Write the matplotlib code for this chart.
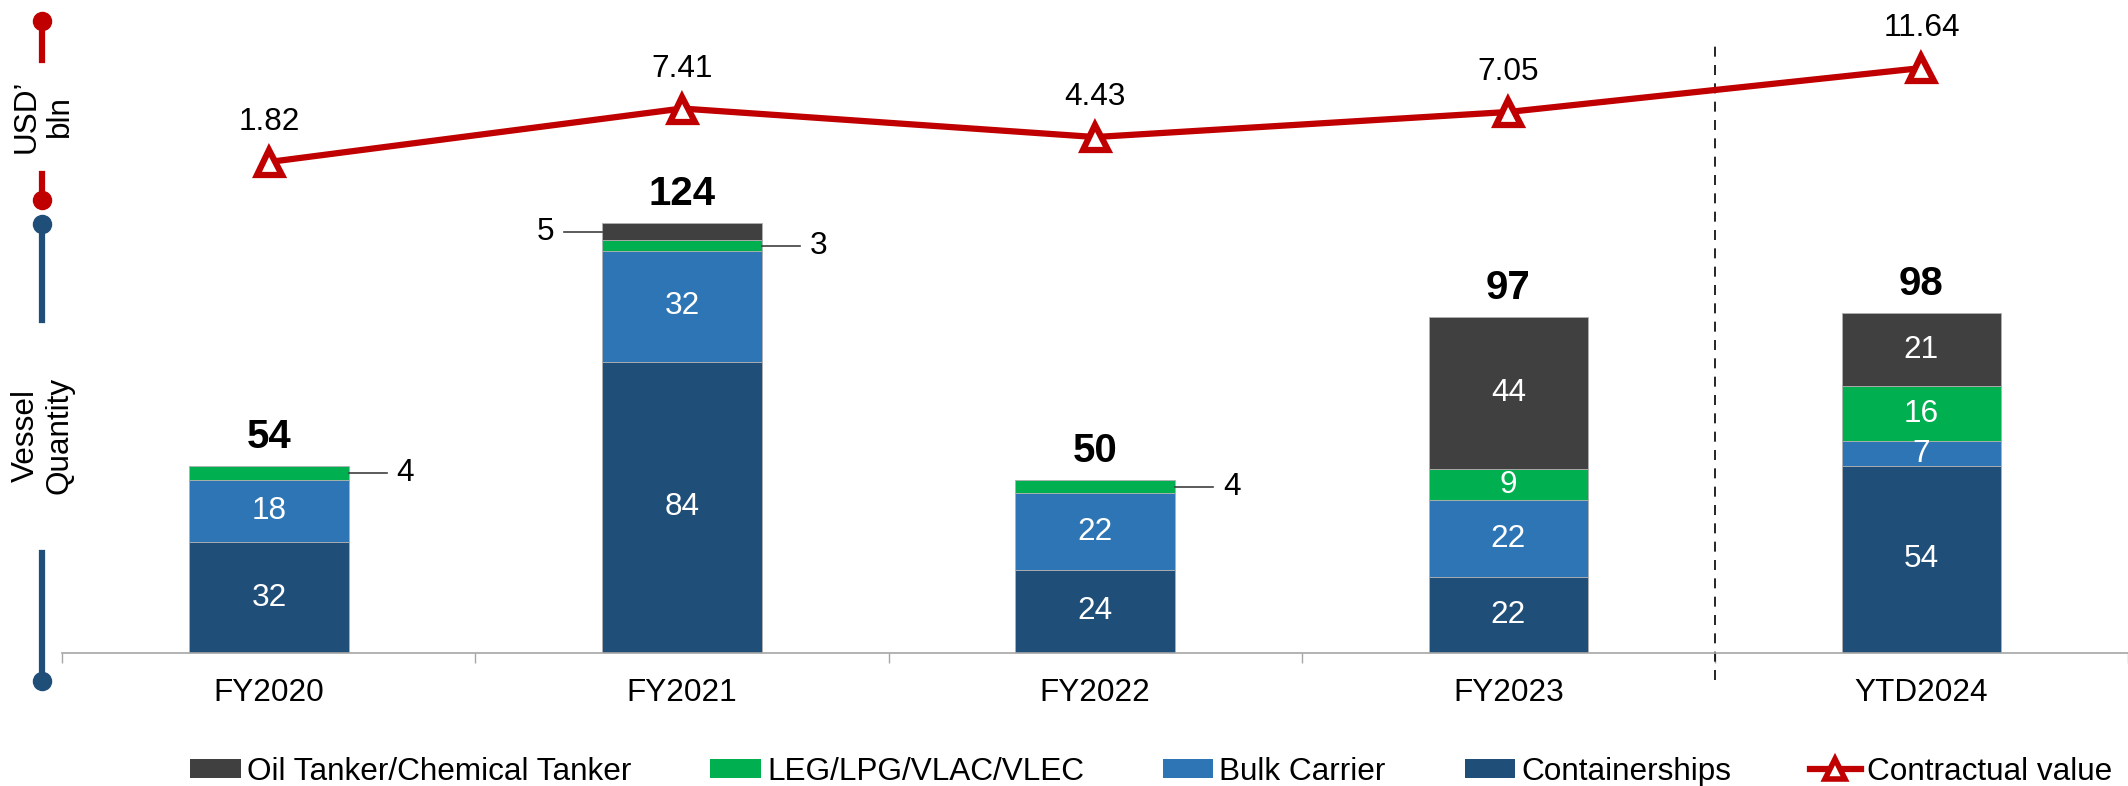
import numpy as np
import matplotlib.pyplot as plt
from matplotlib.lines import Line2D
from matplotlib.patches import Patch

plt.rcParams["font.family"] = ["Liberation Sans", "DejaVu Sans"]

categories = ["FY2020", "FY2021", "FY2022", "FY2023", "YTD2024"]
containerships = [32, 84, 24, 22, 54]
bulk_carrier = [18, 32, 22, 22, 7]
leg_lpg = [4, 3, 4, 9, 16]
oil_tanker = [0, 5, 0, 44, 21]
contract_value = [1.82, 7.41, 4.43, 7.05, 11.64]

series = [
    ("Containerships", containerships, "#1F4E79"),
    ("Bulk Carrier", bulk_carrier, "#2E75B6"),
    ("LEG/LPG/VLAC/VLEC", leg_lpg, "#00B050"),
    ("Oil Tanker/Chemical Tanker", oil_tanker, "#404040"),
]
RED = "#C00000"
BLUE = "#1F4E79"
FS = 22.7

fig = plt.figure(figsize=(21.28, 7.86), dpi=100)
ax = fig.add_axes([0.0293, 0.1692, 0.9707, 0.8308])

x = np.arange(len(categories))
width = 0.386
bottom = np.zeros(len(categories))
colors = {}
for name, vals, color in series:
    vals = np.array(vals, dtype=float)
    colors[name] = color
    keep = vals > 0
    ax.bar(x[keep], vals[keep], width, bottom=bottom[keep], color=color,
           edgecolor="#B0B0B0", linewidth=0.6)
    for i, v in enumerate(vals):
        if v == 0:
            continue
        ymid = bottom[i] + v / 2
        if v >= 6:
            ax.text(x[i], ymid, f"{int(v)}", ha="center", va="center",
                    color="white", fontsize=FS)
        else:
            # small segments get a leader line outside the bar
            side = -1 if name.startswith("Oil") else 1
            edge = x[i] + side * width / 2
            ax.plot([edge, edge + side * 0.092], [ymid, ymid], color="#404040",
                    lw=1.2, clip_on=False)
            ax.text(edge + side * 0.116, ymid, f"{int(v)}",
                    ha="left" if side > 0 else "right", va="center", fontsize=FS)
    bottom += vals

for i, tot in enumerate(bottom):
    ax.annotate(f"{int(tot)}", (x[i], tot), xytext=(0, 13), textcoords="offset points",
                ha="center", va="baseline", fontsize=29, fontweight="bold")

ax.set_ylim(0, 188.3)
ax.set_xlim(-0.5, 4.447)
ax.set_xticks(x)
ax.set_xticklabels(categories, fontsize=FS)
ax.tick_params(axis="x", which="major", length=0, pad=18)
ax.set_xticks(np.arange(-0.5, len(categories), 1), minor=True)
ax.tick_params(axis="x", which="minor", length=7, width=1, color="#A6A6A6")
ax.set_yticks([])
for s in ["top", "right", "left"]:
    ax.spines[s].set_visible(False)
ax.spines["bottom"].set_color("#A6A6A6")
ax.spines["bottom"].set_linewidth(1.2)

ax.axvline(3.5, ymin=-0.041, ymax=0.931, color="black", lw=1.2,
           linestyle=(0, (6, 5)), clip_on=False)

ax2 = ax.twinx()
ax2.set_ylim(-49.49, 18.75)
line, = ax2.plot(x, contract_value, color=RED, lw=4.5, marker="^", ms=18,
                 mfc="white", mec=RED, mew=4.5, label="Contractual value")
for xi, v in zip(x, contract_value):
    ax2.annotate(f"{v:.2f}", (xi, v), xytext=(0, 23), textcoords="offset points",
                 ha="center", va="baseline", fontsize=FS)
ax2.set_yticks([])
for s in ax2.spines.values():
    s.set_visible(False)

leg_order = ["Oil Tanker/Chemical Tanker", "LEG/LPG/VLAC/VLEC", "Bulk Carrier",
             "Containerships"]
leg_handles = [Patch(facecolor=colors[n]) for n in leg_order]
leg_handles.append(Line2D([], [], color=RED, lw=4.5, marker="^", ms=14,
                          mfc="white", mec=RED, mew=4))
leg_labels = leg_order + ["Contractual value"]
fig.legend(leg_handles, leg_labels, loc="center", bbox_to_anchor=(0.541, 0.018),
           ncol=5, frameon=False, fontsize=FS, handlelength=1.6, handleheight=0.56,
           handletextpad=0.2, columnspacing=2.5, borderaxespad=0)

# left-side axis markers
W, H = 2128, 786


def fy(py):
    return 1 - py / H


lx = 42 / W
for y0, y1, col, dot in [(21, 60, RED, 21), (174, 200, RED, 200),
                         (224, 320, BLUE, 224), (553, 681, BLUE, 681)]:
    fig.add_artist(Line2D([lx, lx], [fy(y0), fy(y1)], color=col, lw=4.5))
    fig.add_artist(Line2D([lx], [fy(dot)], marker="o", ms=13, color=col))

fig.text(lx + 1 / W, fy(116), "USD’\nbln", rotation=90, ha="center", va="center",
         fontsize=FS, linespacing=1.15, multialignment="center")
fig.text(lx + 1 / W, fy(435), "Vessel\nQuantity", rotation=90, ha="center", va="center",
         fontsize=FS, linespacing=1.15, multialignment="center")

fig.savefig("out.png", dpi=100)
